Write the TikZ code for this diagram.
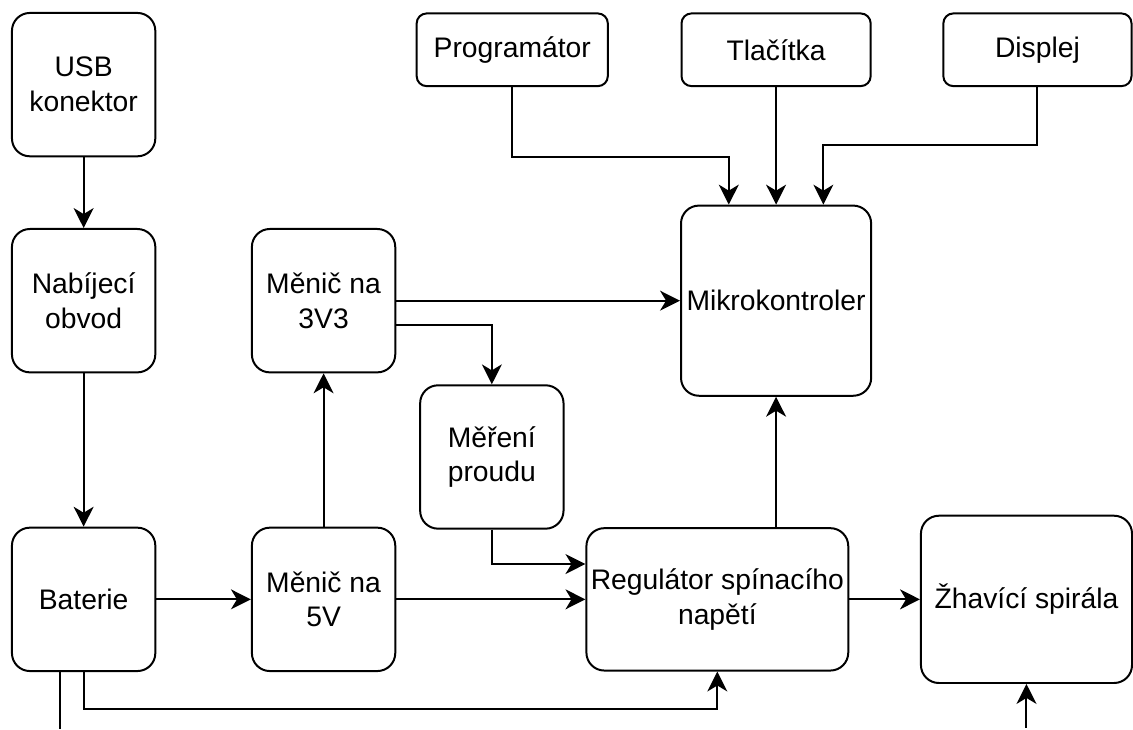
\documentclass[tikz,border=0pt]{standalone}
\usepackage{fontspec}
\setmainfont{Liberation Sans}
\usetikzlibrary{arrows.meta}
\usetikzlibrary{calc}
\usetikzlibrary{positioning}

\begin{document}
\begin{tikzpicture}[x=1pt,y=1pt,
    font=\fontsize{14.2}{17.5}\selectfont,
    line width=1pt,
    >={Stealth[length=10pt,width=10pt,inset=3pt]},
    block/.style={shape=rectangle,
      rounded corners=9pt,
      draw,
      align=center,
      inner sep=0pt},
    box/.style={block,
      minimum width=72pt,
      minimum height=72pt},
    topbox/.style={block,
      rounded corners=5pt,
      minimum height=36.5pt}]
    \node[name=usb, box] at (42,-42.5) {USB\\konektor};

    \node[name=charger, box,
      below=35.5pt of usb] {Nabíjecí\\obvod};

    \node[name=battery, box,
      below=77pt of charger] {Baterie};

    \node[name=conv5, box,
      right=47.5pt of battery] {Měnič na\\5V};

    \node[name=conv33, box,
      above=77pt of conv5] {Měnič na\\3V3};

    \node[name=current, box,
      below right=5.5pt and 11.5pt of conv33] {Měření\\proudu};

    \node[name=mcu, block,
      minimum width=95.5pt,
      minimum height=95.5pt,
      right=142.5pt of conv33] {Mikrokontroler};

    \node[name=reg, block,
      minimum width=131.5pt,
      minimum height=71.5pt,
      right=95pt of conv5] {Regulátor spínacího\\napětí};

    \node[name=heater, block,
      minimum width=106pt,
      minimum height=84pt,
      right=35.5pt of reg] {Žhavící spirála};

    \node[name=buttons, topbox,
      minimum width=95pt,
      above=59pt of mcu] {Tlačítka};

    \node[name=prog, topbox,
      minimum width=96pt,
      left=36pt of buttons] {Programátor};

    \node[name=display, topbox,
      minimum width=94.5pt,
      right=35.5pt of buttons] {Displej};

    \coordinate[below=28.5pt of battery.south, xshift=-12pt] (batout);
    \coordinate[below=22pt of heater.south] (heatin);

    \path (usb) edge[->] (charger);
    \path (charger) edge[->] (battery);
    \path (battery) edge[->] (conv5);
    \path (conv5) edge[->] (conv33);
    \path (conv33) edge[->] (mcu);
    \path (conv5) edge[->] (reg);
    \path (reg) edge[->] (heater);
    \path (buttons) edge[->] (mcu);

    \draw[->] ([yshift=-12pt]conv33.east) -| (current.north);
    \draw[->] (current.south) |- ([yshift=17.75pt]reg.west);
    \draw[->] (reg.north -| mcu.south) -- (mcu.south);
    \draw[->] (battery.south) -- ++(0,-18.5) -| (reg.south);
    \draw ([xshift=-12pt]battery.south) -- (batout);
    \draw[->] (heatin) -- (heater.south);
    \draw[->] (prog.south) |- ([shift={(-23.75pt,24pt)}]mcu.north)
      -- ([xshift=-23.75pt]mcu.north);
    \draw[->] (display.south) |- ([shift={(23.75pt,30pt)}]mcu.north)
      -- ([xshift=23.75pt]mcu.north);

    \path [use as bounding box] (0,0) rectangle (566.5,-363.5);
  \end{tikzpicture}
\end{document}
